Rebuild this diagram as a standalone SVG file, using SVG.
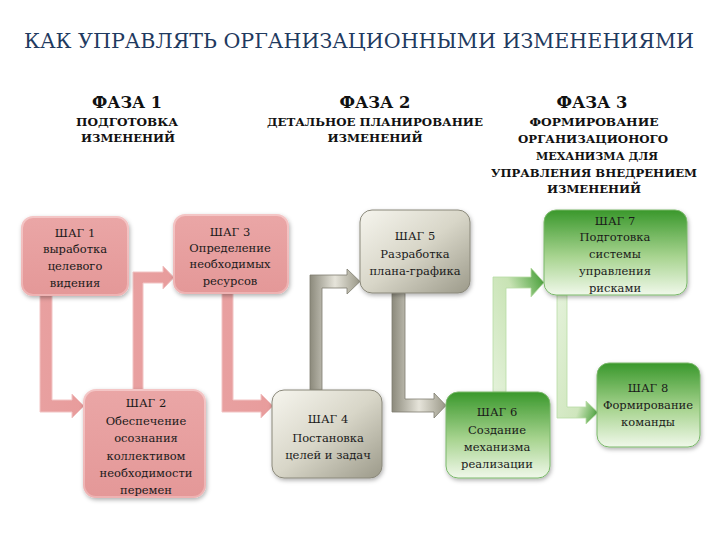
<svg xmlns="http://www.w3.org/2000/svg" width="720" height="540" viewBox="0 0 720 540">
<defs>
<linearGradient id="gPink" x1="0" y1="0" x2="0" y2="1"><stop offset="0" stop-color="#eaa6a6"/><stop offset="1" stop-color="#e49898"/></linearGradient>
<linearGradient id="gPinkEdge" x1="0" y1="0" x2="0" y2="1"><stop offset="0" stop-color="#f4c6c6"/><stop offset="1" stop-color="#eeb2b2"/></linearGradient>
<linearGradient id="gGray" x1="0" y1="0" x2="1" y2="1"><stop offset="0" stop-color="#f6f5ee"/><stop offset="0.5" stop-color="#d8d6c8"/><stop offset="1" stop-color="#9c9a8a"/></linearGradient>
<linearGradient id="gGreen" x1="0" y1="0" x2="0" y2="1"><stop offset="0" stop-color="#3a982c"/><stop offset="0.55" stop-color="#a8d490"/><stop offset="1" stop-color="#f0f8ea"/></linearGradient>
<linearGradient id="aPink" x1="0" y1="0" x2="1" y2="0"><stop offset="0" stop-color="#e8a0a0"/><stop offset="1" stop-color="#e89c9c"/></linearGradient>
<linearGradient id="aGrayV" x1="0" y1="0" x2="1" y2="0"><stop offset="0" stop-color="#8c8a7c"/><stop offset="0.5" stop-color="#e6e4da"/><stop offset="1" stop-color="#9a9888"/></linearGradient>
<linearGradient id="aGreen" x1="0" y1="1" x2="1" y2="0"><stop offset="0" stop-color="#e4f2da"/><stop offset="0.6" stop-color="#c8e3b4"/><stop offset="1" stop-color="#3a982c"/></linearGradient>
<linearGradient id="aGreen2" x1="0" y1="0" x2="1" y2="1"><stop offset="0" stop-color="#e4f2da"/><stop offset="0.7" stop-color="#cfe6bd"/><stop offset="1" stop-color="#3a982c"/></linearGradient>
<filter id="sh" x="-20%" y="-20%" width="140%" height="140%"><feDropShadow dx="1" dy="2" stdDeviation="2" flood-color="#000" flood-opacity="0.3"/></filter>
</defs>
<style>
text{font-family:'DejaVu Serif','Liberation Serif',serif}
.title{font-size:20px;fill:#1f3a60}
.ph{font-size:17px;font-weight:bold;fill:#111;text-anchor:middle}
.sub{font-size:11px;font-weight:bold;fill:#111;text-anchor:middle}
.t{font-size:11.5px;fill:#1a1a1a;text-anchor:middle}
.pink{fill:url(#gPink);stroke:url(#gPinkEdge);stroke-width:2;filter:url(#sh)}
.gray{fill:url(#gGray);stroke:#8a887a;stroke-width:1;filter:url(#sh)}
.green{fill:url(#gGreen);stroke:#7ab86a;stroke-width:1;filter:url(#sh)}
.ap{fill:url(#aPink);stroke:#f2c4c4;stroke-width:1}
.ag{fill:url(#aGrayV);stroke:#7e7c6e;stroke-width:0.8}
</style>
<rect width="720" height="540" fill="#ffffff"/>
<text class="title" x="24" y="48" textLength="670" lengthAdjust="spacingAndGlyphs">КАК УПРАВЛЯТЬ ОРГАНИЗАЦИОННЫМИ ИЗМЕНЕНИЯМИ</text>
<g id="phase1"><text class="ph" x="127" y="108" textLength="70" lengthAdjust="spacingAndGlyphs">ФАЗА 1</text><text class="sub" x="127" y="126" textLength="102" lengthAdjust="spacingAndGlyphs">ПОДГОТОВКА</text><text class="sub" x="128" y="142" textLength="94" lengthAdjust="spacingAndGlyphs">ИЗМЕНЕНИЙ</text></g>
<g id="phase2"><text class="ph" x="375" y="108" textLength="71" lengthAdjust="spacingAndGlyphs">ФАЗА 2</text><text class="sub" x="375" y="126" textLength="216" lengthAdjust="spacingAndGlyphs">ДЕТАЛЬНОЕ ПЛАНИРОВАНИЕ</text><text class="sub" x="375" y="142" textLength="95" lengthAdjust="spacingAndGlyphs">ИЗМЕНЕНИЙ</text></g>
<g id="phase3"><text class="ph" x="592" y="108" textLength="71" lengthAdjust="spacingAndGlyphs">ФАЗА 3</text><text class="sub" x="594" y="126" textLength="129" lengthAdjust="spacingAndGlyphs">ФОРМИРОВАНИЕ</text><text class="sub" x="593" y="143" textLength="150" lengthAdjust="spacingAndGlyphs">ОРГАНИЗАЦИОНОГО</text><text class="sub" x="597" y="160" textLength="122" lengthAdjust="spacingAndGlyphs">МЕХАНИЗМА ДЛЯ</text><text class="sub" x="594" y="177" textLength="206" lengthAdjust="spacingAndGlyphs">УПРАВЛЕНИЯ ВНЕДРЕНИЕМ</text><text class="sub" x="594" y="193" textLength="94" lengthAdjust="spacingAndGlyphs">ИЗМЕНЕНИЙ</text></g>
<g id="connectors">
<path class="ap" d="M40,295 H52 V400 H72 V394 L84,406 L72,418 V412 H40 Z"/>
<path class="ap" d="M133,390 V272 H163 V266 L174,277.5 L163,289 V283 H143 V390 Z"/>
<path class="ap" d="M222,293 H233 V400 H261 V394 L273,406 L261,418 V412 H222 Z"/>
<path class="ag" d="M310,390 V275 H347 V269 L360,281.5 L347,294 V288 H322 V390 Z"/>
<path class="ag" d="M392,293 H405 V399 H434 V393 L446,405.5 L434,418 V412 H392 Z"/>
<path fill="url(#aGreen)" stroke="#b8dca4" stroke-width="0.8" d="M493,392 V277 H531 V268 L544,282.5 L531,297 V288 H506 V392 Z"/>
<path fill="url(#aGreen2)" stroke="#b8dca4" stroke-width="0.8" d="M557,295 H567 V407 H586 V401 L598,412.5 L586,424 V418 H557 Z"/>
</g>
<g id="step1"><rect class="pink" x="22" y="217" width="106" height="78" rx="11"/><text class="t" x="75" y="237">ШАГ 1</text><text class="t" x="75" y="253">выработка</text><text class="t" x="75" y="270">целевого</text><text class="t" x="75" y="287">видения</text></g>
<g id="step2"><rect class="pink" x="84" y="390" width="121" height="107" rx="12"/><text class="t" x="146" y="407">ШАГ 2</text><text class="t" x="146" y="425">Обеспечение</text><text class="t" x="146" y="442">осознания</text><text class="t" x="146" y="460">коллективом</text><text class="t" x="146" y="477">необходимости</text><text class="t" x="146" y="494">перемен</text></g>
<g id="step3"><rect class="pink" x="174" y="215" width="114" height="78" rx="11"/><text class="t" x="230" y="236">ШАГ 3</text><text class="t" x="230" y="252">Определение</text><text class="t" x="230" y="268">необходимых</text><text class="t" x="230" y="285">ресурсов</text></g>
<g id="step4"><rect class="gray" x="272" y="390" width="110" height="88" rx="12"/><text class="t" x="328" y="423">ШАГ 4</text><text class="t" x="328" y="442">Постановка</text><text class="t" x="328" y="459">целей и задач</text></g>
<g id="step5"><rect class="gray" x="360" y="210" width="110" height="83" rx="12"/><text class="t" x="415" y="240">ШАГ 5</text><text class="t" x="415" y="258">Разработка</text><text class="t" x="415" y="275">плана-графика</text></g>
<g id="step6"><rect class="green" x="446" y="392" width="104" height="86" rx="12"/><text class="t" x="497" y="416">ШАГ 6</text><text class="t" x="497" y="434">Создание</text><text class="t" x="497" y="451">механизма</text><text class="t" x="497" y="468">реализации</text></g>
<g id="step7"><rect class="green" x="544" y="210" width="143" height="85" rx="12"/><text class="t" x="615" y="225">ШАГ 7</text><text class="t" x="615" y="241">Подготовка</text><text class="t" x="615" y="258">системы</text><text class="t" x="615" y="275">управления</text><text class="t" x="615" y="292">рисками</text></g>
<g id="step8"><rect class="green" x="597" y="363" width="103" height="84" rx="12"/><text class="t" x="648" y="392">ШАГ 8</text><text class="t" x="648" y="409">Формирование</text><text class="t" x="648" y="426">команды</text></g>
</svg>
